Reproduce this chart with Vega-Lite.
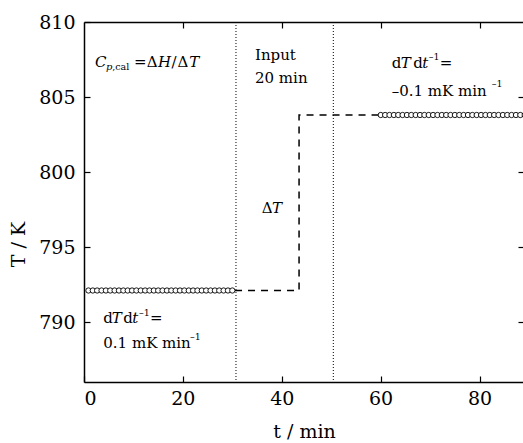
{
  "$schema": "https://vega.github.io/schema/vega-lite/v6.json",
  "width": 440,
  "height": 360,
  "autosize": {"type": "none"},
  "padding": {"left": 84, "top": 22, "right": 0, "bottom": 61},
  "background": "white",
  "config": {
    "view": {"stroke": null},
    "font": "DejaVu Serif",
    "axis": {
      "grid": false,
      "domainColor": "black",
      "domainWidth": 1.5,
      "tickColor": "black",
      "tickWidth": 1.2,
      "tickSize": -6,
      "labelColor": "black",
      "labelFont": "DejaVu Serif",
      "labelFontSize": 19,
      "titleColor": "black",
      "titleFont": "DejaVu Serif",
      "titleFontSize": 19,
      "titleFontWeight": "normal"
    }
  },
  "datasets": {
    "obs": [
      {"t": 0.9, "T": 792.1}, {"t": 1.78, "T": 792.1}, {"t": 2.66, "T": 792.1}, {"t": 3.55, "T": 792.1},
      {"t": 4.43, "T": 792.1}, {"t": 5.31, "T": 792.1}, {"t": 6.19, "T": 792.1}, {"t": 7.07, "T": 792.1},
      {"t": 7.96, "T": 792.1}, {"t": 8.84, "T": 792.1}, {"t": 9.72, "T": 792.1}, {"t": 10.6, "T": 792.1},
      {"t": 11.48, "T": 792.1}, {"t": 12.37, "T": 792.1}, {"t": 13.25, "T": 792.1}, {"t": 14.13, "T": 792.1},
      {"t": 15.01, "T": 792.1}, {"t": 15.89, "T": 792.1}, {"t": 16.78, "T": 792.1}, {"t": 17.66, "T": 792.1},
      {"t": 18.54, "T": 792.1}, {"t": 19.42, "T": 792.1}, {"t": 20.3, "T": 792.1}, {"t": 21.19, "T": 792.1},
      {"t": 22.07, "T": 792.1}, {"t": 22.95, "T": 792.1}, {"t": 23.83, "T": 792.1}, {"t": 24.71, "T": 792.1},
      {"t": 25.6, "T": 792.1}, {"t": 26.48, "T": 792.1}, {"t": 27.36, "T": 792.1}, {"t": 28.24, "T": 792.1},
      {"t": 29.12, "T": 792.1}, {"t": 30.0, "T": 792.1},
      {"t": 60.03, "T": 803.8}, {"t": 60.91, "T": 803.8}, {"t": 61.79, "T": 803.8}, {"t": 62.68, "T": 803.8},
      {"t": 63.56, "T": 803.8}, {"t": 64.44, "T": 803.8}, {"t": 65.32, "T": 803.8}, {"t": 66.2, "T": 803.8},
      {"t": 67.09, "T": 803.8}, {"t": 67.97, "T": 803.8}, {"t": 68.85, "T": 803.8}, {"t": 69.73, "T": 803.8},
      {"t": 70.61, "T": 803.8}, {"t": 71.5, "T": 803.8}, {"t": 72.38, "T": 803.8}, {"t": 73.26, "T": 803.8},
      {"t": 74.14, "T": 803.8}, {"t": 75.02, "T": 803.8}, {"t": 75.91, "T": 803.8}, {"t": 76.79, "T": 803.8},
      {"t": 77.67, "T": 803.8}, {"t": 78.55, "T": 803.8}, {"t": 79.43, "T": 803.8}, {"t": 80.32, "T": 803.8},
      {"t": 81.2, "T": 803.8}, {"t": 82.08, "T": 803.8}, {"t": 82.96, "T": 803.8}, {"t": 83.84, "T": 803.8},
      {"t": 84.73, "T": 803.8}, {"t": 85.61, "T": 803.8}, {"t": 86.49, "T": 803.8}, {"t": 87.37, "T": 803.8},
      {"t": 88.25, "T": 803.8}, {"t": 89.14, "T": 803.8}
    ],
    "step": [
      {"seq": 1, "t": 30.55, "T": 792.1},
      {"seq": 2, "t": 43.5, "T": 792.1},
      {"seq": 3, "t": 43.5, "T": 803.8},
      {"seq": 4, "t": 59.5, "T": 803.8}
    ],
    "guides": [{"t": 30.74}, {"t": 50.43}],
    "roman": [
      {"t": 10.1, "T": 806.97, "txt": "="},
      {"t": 12.68, "T": 806.97, "txt": "Δ"},
      {"t": 17.7, "T": 806.97, "txt": "/"},
      {"t": 18.9, "T": 806.97, "txt": "Δ"},
      {"t": 34.59, "T": 807.47, "txt": "Input"},
      {"t": 34.59, "T": 805.93, "txt": "20 min"},
      {"t": 62.24, "T": 806.91, "txt": "d"},
      {"t": 66.61, "T": 806.91, "txt": "d"},
      {"t": 71.95, "T": 806.91, "txt": "="},
      {"t": 62.24, "T": 805.07, "txt": "–0.1 mK min"},
      {"t": 3.9, "T": 789.91, "txt": "d"},
      {"t": 7.95, "T": 789.91, "txt": "d"},
      {"t": 13.35, "T": 789.91, "txt": "="},
      {"t": 3.9, "T": 788.25, "txt": "0.1 mK min"},
      {"t": 35.94, "T": 797.27, "txt": "Δ"}
    ],
    "italic": [
      {"t": 2.22, "T": 806.97, "txt": "C"},
      {"t": 14.95, "T": 806.97, "txt": "H"},
      {"t": 21.3, "T": 806.97, "txt": "T"},
      {"t": 64.06, "T": 806.91, "txt": "T"},
      {"t": 68.4, "T": 806.91, "txt": "t"},
      {"t": 5.6, "T": 789.91, "txt": "T"},
      {"t": 9.75, "T": 789.91, "txt": "t"},
      {"t": 38.03, "T": 797.27, "txt": "T"}
    ],
    "smallItalic": [
      {"t": 4.45, "T": 806.77, "txt": "p"}
    ],
    "small": [
      {"t": 5.7, "T": 806.77, "txt": ",cal"},
      {"t": 69.75, "T": 807.47, "txt": "–1"},
      {"t": 82.46, "T": 805.69, "txt": "–1"},
      {"t": 11.1, "T": 790.42, "txt": "–1"},
      {"t": 21.44, "T": 788.8, "txt": "–1"}
    ]
  },
  "layer": [
    {
      "data": {"name": "guides"},
      "mark": {"type": "rule", "color": "black", "strokeWidth": 1, "strokeDash": [1, 2]},
      "encoding": {
        "x": {
          "field": "t", "type": "quantitative",
          "scale": {"domain": [0, 89], "nice": false, "zero": false},
          "axis": {"orient": "top", "labels": false, "title": null, "values": [20, 40, 60, 80], "domain": true}
        }
      }
    },
    {
      "data": {"name": "step"},
      "mark": {"type": "line", "color": "black", "strokeWidth": 1.5, "strokeDash": [7, 6]},
      "encoding": {
        "x": {"field": "t", "type": "quantitative", "axis": null},
        "y": {"field": "T", "type": "quantitative", "axis": null},
        "order": {"field": "seq", "type": "quantitative"}
      }
    },
    {
      "data": {"name": "obs"},
      "mark": {"type": "point", "shape": "circle", "filled": true, "fill": "white", "stroke": "black", "strokeWidth": 0.9, "size": 28, "opacity": 1, "clip": true},
      "encoding": {
        "x": {
          "field": "t", "type": "quantitative",
          "axis": {"orient": "bottom", "values": [0, 20, 40, 60, 80], "title": "t / min", "labelPadding": 13, "titlePadding": 14}
        },
        "y": {
          "field": "T", "type": "quantitative",
          "scale": {"domain": [786, 810], "nice": false, "zero": false},
          "axis": {"orient": "left", "values": [790, 795, 800, 805, 810], "title": "T / K", "labelPadding": 15, "titlePadding": 10, "titleY": 222}
        }
      }
    },
    {
      "data": {"name": "roman"},
      "mark": {"type": "text", "font": "DejaVu Serif", "fontSize": 15, "color": "black", "align": "left", "baseline": "alphabetic"},
      "encoding": {
        "x": {"field": "t", "type": "quantitative", "axis": null},
        "y": {"field": "T", "type": "quantitative", "axis": null},
        "text": {"field": "txt"}
      }
    },
    {
      "data": {"name": "italic"},
      "mark": {"type": "text", "font": "DejaVu Serif", "fontSize": 15, "fontStyle": "italic", "color": "black", "align": "left", "baseline": "alphabetic"},
      "encoding": {
        "x": {"field": "t", "type": "quantitative", "axis": null},
        "y": {"field": "T", "type": "quantitative", "axis": null},
        "text": {"field": "txt"}
      }
    },
    {
      "data": {"name": "smallItalic"},
      "mark": {"type": "text", "font": "DejaVu Serif", "fontSize": 10, "fontStyle": "italic", "color": "black", "align": "left", "baseline": "alphabetic"},
      "encoding": {
        "x": {"field": "t", "type": "quantitative", "axis": null},
        "y": {"field": "T", "type": "quantitative", "axis": null},
        "text": {"field": "txt"}
      }
    },
    {
      "data": {"name": "small"},
      "mark": {"type": "text", "font": "DejaVu Serif", "fontSize": 9.5, "color": "black", "align": "left", "baseline": "alphabetic"},
      "encoding": {
        "x": {"field": "t", "type": "quantitative", "axis": null},
        "y": {
          "field": "T", "type": "quantitative",
          "axis": {"orient": "right", "labels": false, "title": null, "values": [790, 795, 800, 805], "domain": true}
        },
        "text": {"field": "txt"}
      }
    }
  ]
}
